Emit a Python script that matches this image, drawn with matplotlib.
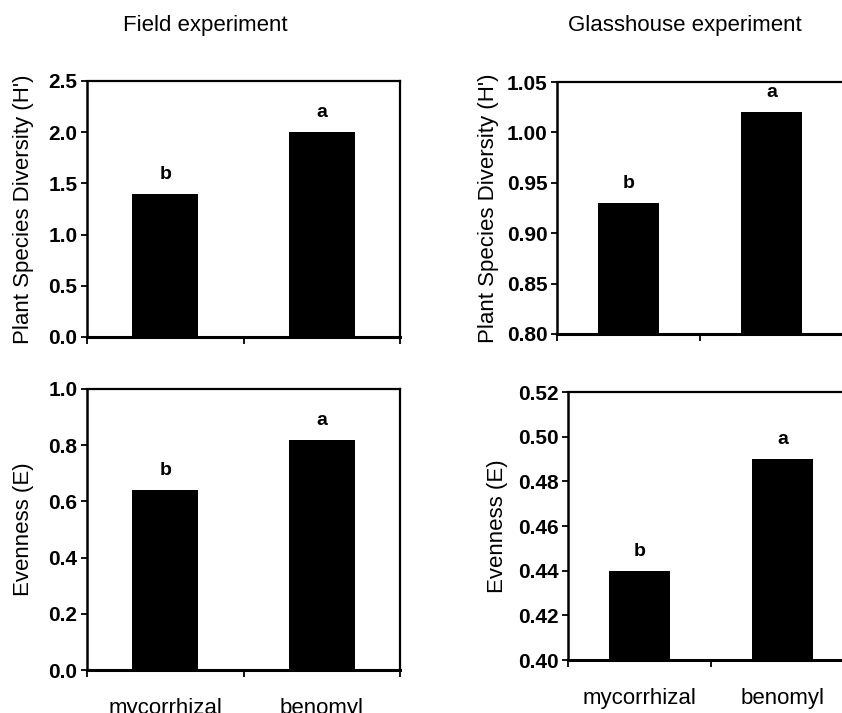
import matplotlib
matplotlib.use("Agg")
import matplotlib.pyplot as plt

plt.rcParams['font.family'] = ['Liberation Sans', 'DejaVu Sans']

categories = ["mycorrhizal", "benomyl"]
field_diversity = [1.40, 2.00]
field_evenness = [0.64, 0.82]
glass_diversity = [0.93, 1.02]
glass_evenness = [0.44, 0.49]
letters = ["b", "a"]

field_div_ticks = [0.0, 0.5, 1.0, 1.5, 2.0, 2.5]
field_even_ticks = [0.0, 0.2, 0.4, 0.6, 0.8, 1.0]
glass_div_ticks = [0.80, 0.85, 0.90, 0.95, 1.00, 1.05]
glass_even_ticks = [0.40, 0.42, 0.44, 0.46, 0.48, 0.50, 0.52]

W, H = 842, 713
fig = plt.figure(figsize=(W / 100, H / 100), dpi=100)


def px_axes(left, top, right, bottom):
    return fig.add_axes([left / W, 1 - bottom / H, (right - left) / W, (bottom - top) / H])


def panel(ax, values, ticks, fmt, ylabel, label_x, show_xlabels):
    x = list(range(len(values)))
    base = ticks[0]
    ax.bar(x, [v - base for v in values], bottom=base, width=0.42, color='black')
    ax.set_xlim(-0.5, len(values) - 0.5)
    ax.set_ylim(ticks[0], ticks[-1])
    ax.set_yticks(ticks)
    ax.set_yticklabels([fmt.format(t) for t in ticks], fontsize=15, fontweight='bold')
    ax.set_xticks([-0.5, 0.5, 1.5])
    ax.set_xticklabels([])
    ax.set_xticks(x, minor=True)
    if show_xlabels:
        ax.set_xticklabels(categories, minor=True, fontsize=16)
    ax.tick_params(axis='x', which='minor', length=0, pad=20)
    ax.tick_params(axis='x', which='major', direction='out', length=5, width=1.3)
    ax.tick_params(axis='y', direction='out', length=4, width=1.3, pad=3)
    ax.spines['bottom'].set_linewidth(2.2)
    ax.spines['left'].set_linewidth(1.8)
    ax.spines['top'].set_linewidth(1.6)
    ax.spines['right'].set_linewidth(1.6)
    ax.set_ylabel(ylabel, fontsize=16)
    pos = ax.get_position()
    ax.yaxis.set_label_coords(label_x / W, (pos.y0 + pos.y1) / 2, transform=fig.transFigure)
    for xi, v, l in zip(x, values, letters):
        ax.annotate(l, (xi, v), xytext=(0, 14), textcoords='offset points',
                    ha='center', va='center', fontsize=14, fontweight='bold')


ax1 = px_axes(87, 81, 400, 337)
ax2 = px_axes(557, 82, 843, 334)
ax3 = px_axes(87, 389, 400, 670)
ax4 = px_axes(568, 392, 854, 660)

panel(ax1, field_diversity, field_div_ticks, "{:.1f}", "Plant Species Diversity (H')", 34, False)
panel(ax2, glass_diversity, glass_div_ticks, "{:.2f}", "Plant Species Diversity (H')", 499, False)
panel(ax3, field_evenness, field_even_ticks, "{:.1f}", "Evenness (E)", 34, True)
panel(ax4, glass_evenness, glass_even_ticks, "{:.2f}", "Evenness (E)", 508, True)

fig.text(205 / W, 1 - 25 / H, "Field experiment", ha='center', va='center', fontsize=16)
fig.text(685 / W, 1 - 25 / H, "Glasshouse experiment", ha='center', va='center', fontsize=16)

fig.savefig("out.png", dpi=100)
